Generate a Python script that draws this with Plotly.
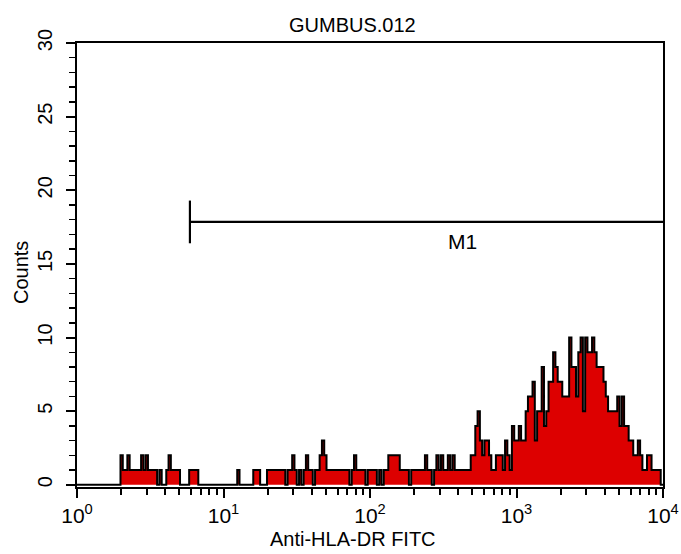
import math
import plotly.graph_objects as go

# Histogram counts per channel (256 log channels over 4 decades)
counts = (
    [0] * 19 +
    [2, 1, 1, 2, 1, 1, 1, 1, 1, 2, 1, 2, 1, 1, 1, 1, 0, 1, 0, 0,
     1, 2, 1, 1, 1, 1, 0, 0, 0, 0, 1, 1, 1, 1] +
    [0] * 17 +
    [1, 0, 0, 0, 0, 0, 0, 1, 1, 1, 0, 0, 0, 1, 1, 1, 1, 1, 1, 1,
     1, 0, 1, 1, 2, 1, 0, 1, 0, 1, 2, 1, 1, 0, 1, 1, 2, 3, 2,
     1, 1, 1, 1, 1, 1, 1, 1, 1, 1, 0, 1, 2, 1, 1, 1, 1, 0, 1, 1,
     1, 1, 0, 1, 0, 1, 1, 2, 2, 2, 2, 2, 1, 1, 1, 1, 0, 1, 1, 1,
     1, 1, 1, 2, 1, 1, 0, 1, 2, 1, 2, 1, 1, 2, 1, 2, 1, 1, 1, 1,
     1, 1, 1, 2, 2, 4, 5, 3, 2, 3, 3, 2, 1, 1, 2, 2, 2, 1, 3, 2,
     1, 4, 3, 3, 4, 3, 3, 5, 6, 6, 7, 3, 5, 5, 8, 4, 5, 7, 7, 9,
     8, 7, 7, 6, 6, 6, 10, 8, 8, 6, 9, 10, 5, 10, 9, 9, 10, 9, 8, 8,
     8, 7, 6, 5, 5, 5, 5, 6, 4, 6, 4, 4, 3, 3, 2, 2, 3, 2, 1, 1,
     2, 2, 1, 1, 1, 1, 0]
)
n_channels = 256
n_decades = 4
counts = (counts + [0] * n_channels)[:n_channels]

x_tick_vals = [1, 10, 100, 1000, 10000]
x_tick_text = ["10<sup>0</sup>", "10<sup>1</sup>", "10<sup>2</sup>", "10<sup>3</sup>", "10<sup>4</sup>"]
x_minor_vals = [m * 10 ** d for d in range(4) for m in range(2, 10)]
y_tick_vals = [0, 5, 10, 15, 20, 25, 30]

# Marker region M1
gate_lo, gate_hi, gate_y, gate_half = 5.9, 10000, 17.85, 1.45
gate_label = "M1"
gate_label_x, gate_label_y = 425, 16.55  # data coords

title_text = "GUMBUS.012"
x_title = "Anti-HLA-DR FITC"
y_title = "Counts"

edges = [10 ** (n_decades * i / n_channels) for i in range(n_channels + 1)]
xs = edges
ys = counts + [counts[-1]]

font = "Liberation Sans, Arial, Helvetica, sans-serif"
black = "black"

fig = go.Figure()
fig.add_trace(go.Scatter(
    x=xs, y=ys, mode="lines", line=dict(shape="hv", color=black, width=2),
    fill="tozeroy", fillcolor="#DD0000", hoverinfo="skip", showlegend=False))

fig.add_trace(go.Scatter(
    x=[gate_lo, gate_hi], y=[gate_y, gate_y], mode="lines",
    line=dict(color=black, width=2.2), showlegend=False, hoverinfo="skip"))
fig.add_trace(go.Scatter(
    x=[gate_lo, gate_lo], y=[gate_y - gate_half, gate_y + gate_half], mode="lines",
    line=dict(color=black, width=2.2), showlegend=False, hoverinfo="skip"))

W, H = 681, 554
L, T, R, B = 77, 43, 681 - 663, 554 - 487
pw, ph = W - L - R, H - T - B


def px_x(px):
    return (px - L) / pw


def px_y(py):
    return (H - B - py) / ph


fig.update_layout(
    width=W, height=H,
    margin=dict(l=L, r=R, t=T, b=B, autoexpand=False),
    paper_bgcolor="white", plot_bgcolor="white",
    font=dict(family=font, color=black, size=20),
    annotations=[
        dict(x=px_x(352), y=px_y(25), xref="paper", yref="paper", text=title_text,
             xanchor="center", yanchor="middle",
             showarrow=False, font=dict(family=font, size=20, color=black)),
        dict(x=px_x(353), y=px_y(539), xref="paper", yref="paper", text=x_title,
             xanchor="center", yanchor="middle",
             showarrow=False, font=dict(family=font, size=20, color=black)),
        dict(x=px_x(21), y=px_y(272), xref="paper", yref="paper", text=y_title,
             xanchor="center", yanchor="middle",
             textangle=-90, showarrow=False, font=dict(family=font, size=20, color=black)),
        dict(x=math.log10(gate_label_x), y=gate_label_y, xref="x", yref="y",
             xanchor="center", yanchor="middle",
             text=gate_label, showarrow=False, font=dict(family=font, size=21, color=black)),
    ],
)

fig.update_xaxes(
    type="log", range=[0, 4], showgrid=False, zeroline=False, automargin=False,
    showline=True, linecolor=black, linewidth=2, mirror=True,
    ticks="outside", ticklen=9, tickwidth=2, tickcolor=black,
    tickvals=x_tick_vals, ticktext=x_tick_text,
    tickfont=dict(family=font, size=21, color=black),
    minor=dict(tickvals=x_minor_vals, ticks="outside", ticklen=6, tickwidth=2, tickcolor=black),
)
fig.update_yaxes(
    range=[-0.15, 30], showgrid=False, zeroline=False, automargin=False,
    showline=True, linecolor=black, linewidth=2, mirror=True,
    ticks="outside", ticklen=9, tickwidth=2, tickcolor=black,
    tickvals=y_tick_vals, tickangle=-90, ticklabelstandoff=6,
    tickfont=dict(family=font, size=20, color=black),
    minor=dict(dtick=1, ticks="outside", ticklen=6, tickwidth=1.5, tickcolor=black),
)

fig.write_html(
    "out.html",
    config={"displayModeBar": False, "staticPlot": True},
    post_script="document.body.style.margin='0';document.body.style.overflow='hidden';",
)
